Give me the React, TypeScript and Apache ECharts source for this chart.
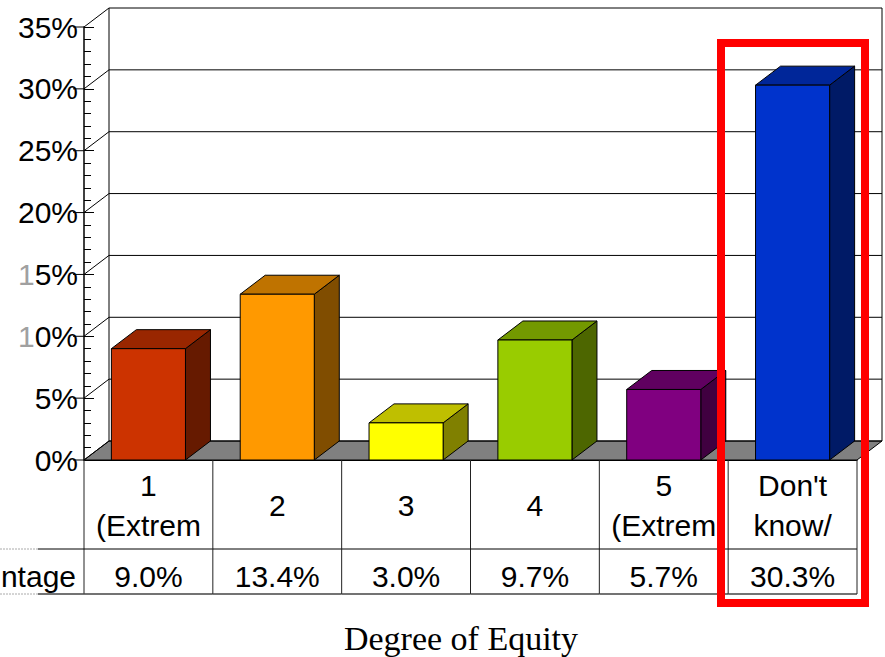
import React, { useEffect, useRef } from "react";
import * as echarts from "echarts";

const categories = ["1\n(Extrem", "2", "3", "4", "5\n(Extrem", "Don't\nknow/"];
const percentages = [9.0, 13.4, 3.0, 9.7, 5.7, 30.3];
const yTicks = [0, 5, 10, 15, 20, 25, 30, 35];
const frontColors = ["#CC3300", "#FF9900", "#FFFF00", "#99CC00", "#800080", "#0033CC"];
const topColors = ["#992600", "#BF7300", "#BFBF00", "#739900", "#600060", "#002699"];
const sideColors = ["#661A00", "#804D00", "#808000", "#4D6600", "#400040", "#001A66"];
const rowTitle = "ntage";
const xTitle = "Degree of Equity";

const DX = 25;
const DY = -19;
const SANS = '"Liberation Sans", Arial, sans-serif';
const ROW1 = 549;
const ROW2 = 594;

const line = (x1: number, y1: number, x2: number, y2: number, stroke = "#000", lineWidth = 1, lineDash?: number[]) => ({
  type: "line",
  shape: { x1, y1, x2, y2 },
  style: { stroke, lineWidth, lineDash, fill: "none" },
});

export default function App() {
  const ref = useRef<HTMLDivElement>(null);
  useEffect(() => {
    const chart = echarts.init(ref.current!, undefined, { renderer: "svg" });
    chart.setOption({
      animation: false,
      backgroundColor: "#fff",
      grid: { left: 84, right: 28, top: 27, bottom: 197, containLabel: false, outerBoundsMode: "none" },
      xAxis: {
        type: "category",
        data: categories,
        axisLine: { show: true, lineStyle: { color: "#000", width: 1 } },
        axisTick: { show: false },
        splitLine: { show: false },
        axisLabel: {
          interval: 0,
          margin: 45,
          verticalAlign: "middle",
          lineHeight: 40,
          fontSize: 30,
          fontFamily: SANS,
          color: "#000",
        },
        name: xTitle,
        nameLocation: "middle",
        nameGap: 163,
        nameTextStyle: {
          fontFamily: '"Liberation Serif", serif',
          fontSize: 34,
          lineHeight: 30,
          color: "#000",
          padding: [0, 19, 0, 0],
        },
      },
      yAxis: {
        type: "value",
        min: 0,
        max: 35,
        interval: 5,
        axisLine: { show: true, lineStyle: { color: "#000", width: 1.5 } },
        axisTick: { show: true, inside: true, length: 10, lineStyle: { color: "#000" } },
        minorTick: { show: true, splitNumber: 5, length: 7, lineStyle: { color: "#000" } },
        splitLine: { show: false },
        axisLabel: {
          margin: 6,
          fontSize: 30,
          fontFamily: SANS,
          color: "#000",
          formatter: (v: number) => (v === 10 || v === 15 ? `{g|1}{k|${String(v)[1]}%}` : `{k|${v}%}`),
          rich: {
            g: { fontSize: 30, fontFamily: SANS, color: "#a0a0a0" },
            k: { fontSize: 30, fontFamily: SANS, color: "#000" },
          },
        },
      },
      graphic: [
        {
          type: "rect",
          z: 100,
          shape: { x: 721, y: 43, width: 144, height: 560 },
          style: { fill: "none", stroke: "#FF0000", lineWidth: 8 },
        },
      ],
      series: [
        {
          // back wall, its grid lines, the slanted left wall lines and the outer part of the long ticks
          type: "custom",
          z: 1,
          silent: true,
          data: yTicks.map((v) => [0, v]),
          renderItem: (params: any, api: any) => {
            const cs = params.coordSys;
            const v = api.value(1);
            const y = api.coord([0, v])[1];
            const children: any[] = [
              line(cs.x + DX, y + DY, cs.x + cs.width + DX, y + DY),
              line(cs.x, y, cs.x + DX, y + DY),
              line(cs.x - 11, y, cs.x, y),
            ];
            if (v === 0) {
              const y0 = y;
              children.unshift({
                type: "polygon",
                shape: {
                  points: [
                    [cs.x, y0],
                    [cs.x + cs.width, y0],
                    [cs.x + cs.width + DX, y0 + DY],
                    [cs.x + DX, y0 + DY],
                  ],
                },
                style: { fill: "#808080", stroke: "#000", lineWidth: 1 },
              });
              const yTop = cs.y;
              children.push(line(cs.x + DX, yTop + DY, cs.x + DX, y0 + DY));
              children.push(line(cs.x + cs.width + DX, yTop + DY, cs.x + cs.width + DX, y0 + DY));
            }
            return { type: "group", children };
          },
        },
        {
          // 3D bars
          type: "custom",
          z: 3,
          silent: true,
          data: percentages.map((v, i) => [i, v]),
          renderItem: (params: any, api: any) => {
            const i = params.dataIndex;
            const idx = api.value(0);
            const val = api.value(1);
            const [cx, yTop] = api.coord([idx, val]);
            const [, yBase] = api.coord([idx, 0]);
            const w = api.size([1, 0])[0] * 0.575;
            const l = cx - w / 2;
            const r = cx + w / 2;
            const edge = { stroke: "#000", lineWidth: 1 };
            return {
              type: "group",
              children: [
                {
                  type: "polygon",
                  shape: { points: [[r, yTop], [r + DX, yTop + DY], [r + DX, yBase + DY], [r, yBase]] },
                  style: { fill: sideColors[i], ...edge },
                },
                {
                  type: "polygon",
                  shape: { points: [[l, yTop], [l + DX, yTop + DY], [r + DX, yTop + DY], [r, yTop]] },
                  style: { fill: topColors[i], ...edge },
                },
                {
                  type: "polygon",
                  shape: { points: [[l, yTop], [r, yTop], [r, yBase], [l, yBase]] },
                  style: { fill: frontColors[i], ...edge },
                },
              ],
            };
          },
        },
        {
          // data table under the axis
          type: "custom",
          z: 4,
          silent: true,
          data: percentages.map((v, i) => [i, v]),
          renderItem: (params: any, api: any) => {
            const cs = params.coordSys;
            const i = params.dataIndex;
            const [cx] = api.coord([api.value(0), 0]);
            const bw = api.size([1, 0])[0];
            const yBase = cs.y + cs.height;
            const children: any[] = [
              line(cx - bw / 2, yBase, cx - bw / 2, ROW2, "#222"),
              line(cx - bw / 2, ROW1, cx + bw / 2, ROW1),
              line(cx - bw / 2, ROW2, cx + bw / 2, ROW2, "#444", 1.5),
              {
                type: "text",
                x: cx,
                y: 576,
                style: {
                  text: api.value(1).toFixed(1) + "%",
                  fontSize: 30,
                  fontFamily: SANS,
                  fill: "#000",
                  align: "center",
                  verticalAlign: "middle",
                },
              },
            ];
            if (i === percentages.length - 1) {
              children.push(line(cx + bw / 2, yBase, cx + bw / 2, ROW2, "#222"));
            }
            if (i === 0) {
              children.push(line(0, ROW1, 38, ROW1, "#aaa", 1, [2, 1]));
              children.push(line(38, ROW1, cs.x, ROW1));
              children.push(line(0, ROW2, 38, ROW2, "#aaa", 1, [2, 1]));
              children.push(line(38, ROW2, cs.x, ROW2, "#444", 1.5));
              children.push({
                type: "text",
                x: 76,
                y: 576,
                style: {
                  text: rowTitle,
                  fontSize: 30,
                  fontFamily: SANS,
                  fill: "#000",
                  align: "right",
                  verticalAlign: "middle",
                },
              });
            }
            return { type: "group", children };
          },
        },
      ],
    });
    return () => chart.dispose();
  }, []);
  return <div ref={ref} style={{ position: "absolute", left: 0, top: 0, width: 885, height: 657 }} />;
}
